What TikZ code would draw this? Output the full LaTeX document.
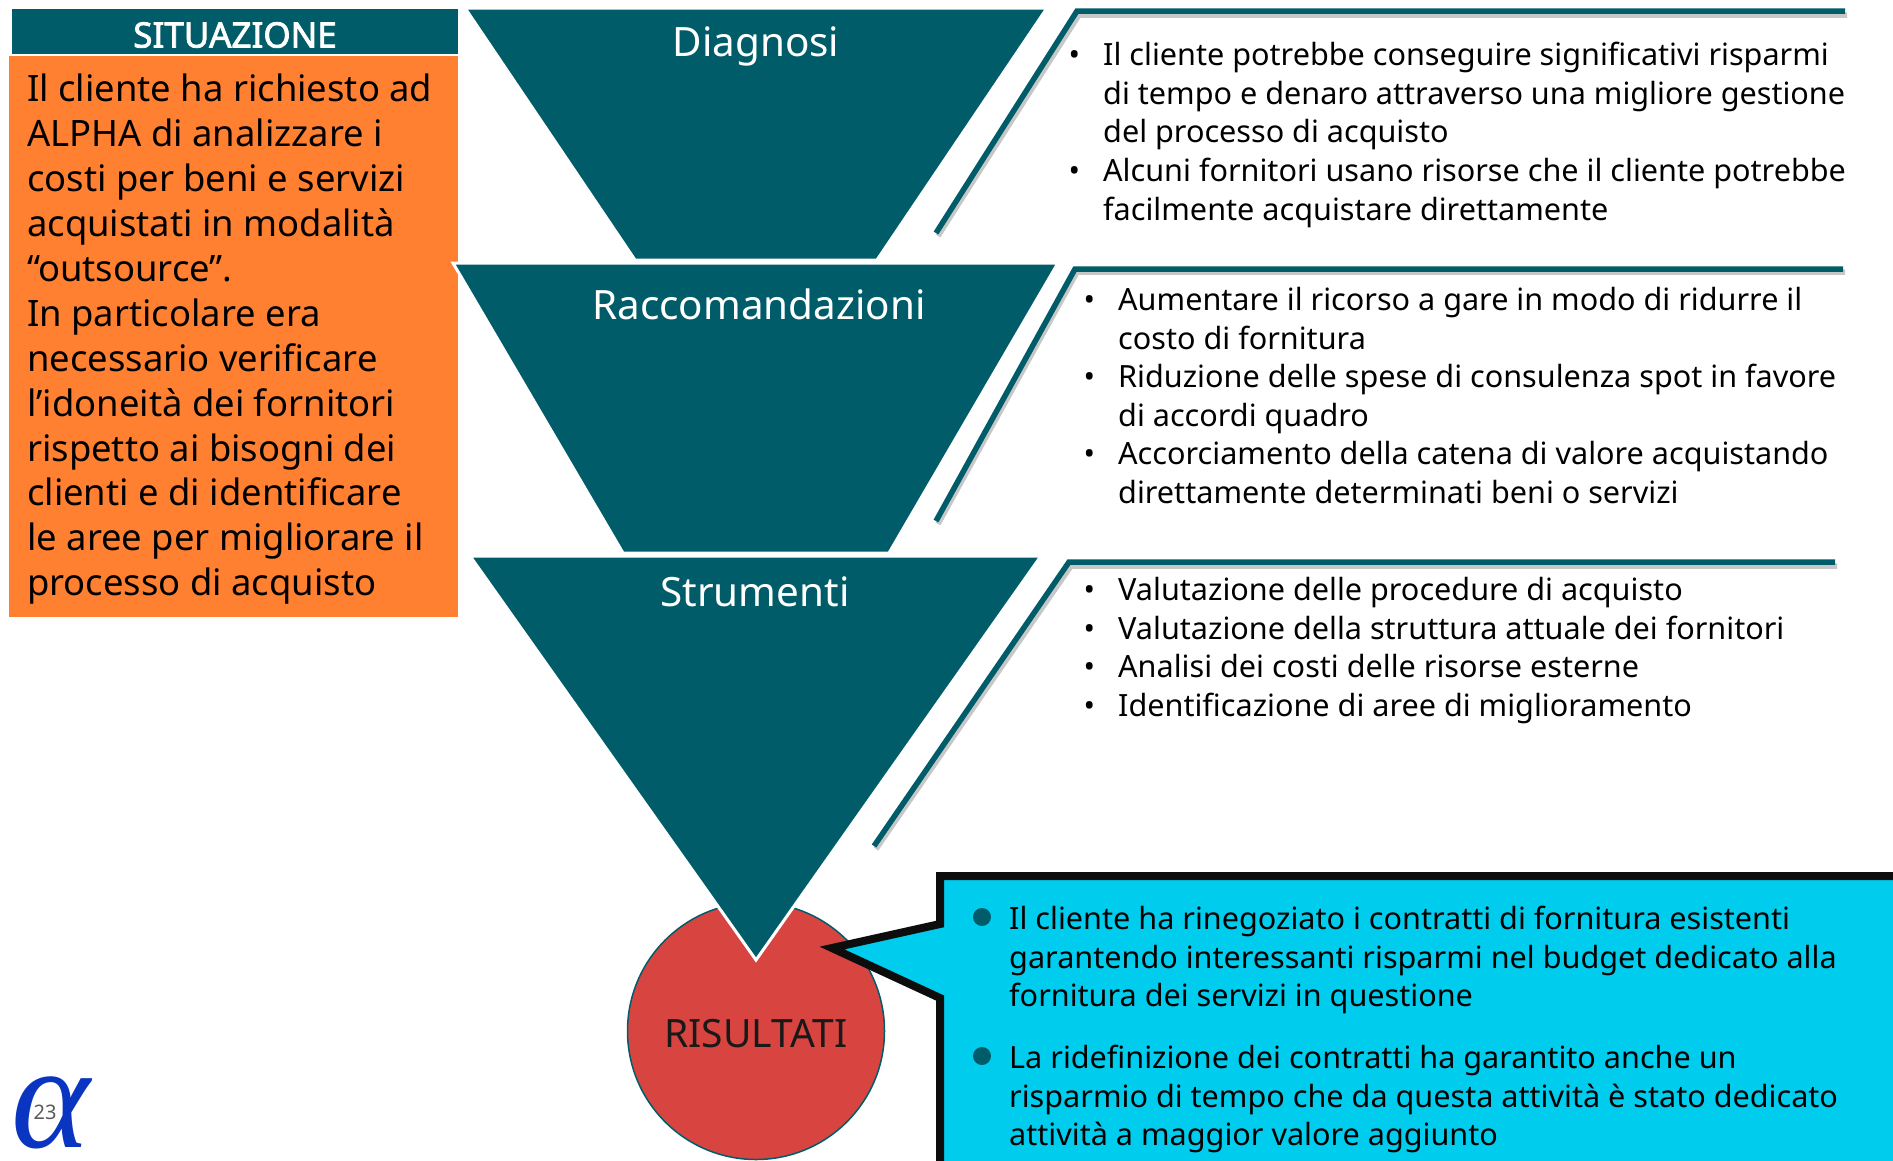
\documentclass[tikz,border=0pt]{standalone}
\usepackage{fontspec}
\setmainfont{Noto Sans}
\newfontfamily\headfont[FakeBold=2.2]{Noto Sans}
\newfontfamily\logofont{Liberation Serif}
\definecolor{tealdark}{HTML}{005C69}
\definecolor{orangebox}{HTML}{FF8030}
\definecolor{cyanbox}{HTML}{00CDEE}
\definecolor{redcircle}{HTML}{D84540}
\definecolor{logoblue}{HTML}{0A35C0}
\newcommand*{\bulletline}{\leavevmode\llap{\textbullet\hspace{23pt}}}
\tikzset{
  funnel/.style={fill=tealdark, draw=white, line width=3pt, line join=miter},
  funneltitle/.style={text=white, font=\fontsize{40.4}{46}\selectfont},
  rule/.style={draw=tealdark, line width=5.5pt, line join=miter},
  ruleshadow/.style={draw=black!22, line width=5.5pt, line join=miter},
  bodytext/.style={anchor=north west, inner sep=0pt, align=left, font=\fontsize{30.6}{38.6}\selectfont},
  sidetext/.style={anchor=north west, inner sep=0pt, align=left, font=\fontsize{36.4}{44.9}\selectfont},
  calldot/.style={circle, fill=tealdark, inner sep=0pt, minimum size=18pt}
}
\begin{document}
\begin{tikzpicture}[x=1pt, y=-1pt]
\clip (0,0) rectangle (1893,1160);
% left column
\node[fill=tealdark, minimum width=446pt, minimum height=45pt, inner sep=0pt, anchor=north west] (sitHead) at (12,9) {};
\node[text=white, font=\headfont\fontsize{35}{38}\selectfont] (sitTitle) at (235,35) {SITUAZIONE};
\node[fill=orangebox, minimum width=449pt, minimum height=561pt, inner sep=0pt, anchor=north west] (sitBox) at (9,56) {};
\node[sidetext] (sitText) at (27,74) {Il cliente ha richiesto ad\\ ALPHA di analizzare i\\ costi per beni e servizi\\ acquistati in modalità\\ “outsource”.\\ In particolare era\\ necessario verificare\\ l’idoneità dei fornitori\\ rispetto ai bisogni dei\\ clienti e di identificare\\ le aree per migliorare il\\ processo di acquisto};
% funnels
\node[circle, fill=redcircle, draw=tealdark, line width=1.5pt, minimum size=257pt, inner sep=0pt] (resCircle) at (756,1031) {};
\node[text=black!90, font=\fontsize{39}{46}\selectfont] (resText) at (756,1034) {RISULTATI};
\draw[funnel] (465,8) -- (1047,8) -- (877,260) -- (635,260) -- cycle;
\draw[funnel] (453,263) -- (1058,263) -- (889,553) -- (623,553) -- cycle;
\draw[funnel] (470,556) -- (1041,556) -- (756,960) -- cycle;
\node[funneltitle] (diagTitle) at (756,46) {Diagnosi};
\node[funneltitle] (raccTitle) at (759,304) {Raccomandazioni};
\node[funneltitle] (strumTitle) at (755,592) {Strumenti};
% rules
\draw[ruleshadow] (938,236) -- (1079,15) -- (1847,15);
\draw[rule] (936,233) -- (1077,11) -- (1845,11);
\draw[ruleshadow] (938,524) -- (1077,272) -- (1845,272);
\draw[rule] (936,521) -- (1075,269) -- (1843,269);
\draw[ruleshadow] (876,849) -- (1071,566) -- (1837,566);
\draw[rule] (874,846) -- (1069,562) -- (1835,562);
% right column
\node[bodytext] (diagText) at (1103,42) {\bulletline Il cliente potrebbe conseguire significativi risparmi\\ di tempo e denaro attraverso una migliore gestione\\ del processo di acquisto\\ \bulletline Alcuni fornitori usano risorse che il cliente potrebbe\\ facilmente acquistare direttamente};
\node[bodytext] (raccText) at (1118,287) {\bulletline Aumentare il ricorso a gare in modo di ridurre il\\ costo di fornitura\\ \bulletline Riduzione delle spese di consulenza spot in favore\\ di accordi quadro\\ \bulletline Accorciamento della catena di valore acquistando\\ direttamente determinati beni o servizi};
\node[bodytext] (strumText) at (1118,577) {\bulletline Valutazione delle procedure di acquisto\\ \bulletline Valutazione della struttura attuale dei fornitori\\ \bulletline Analisi dei costi delle risorse esterne\\ \bulletline Identificazione di aree di miglioramento};
% callout
\draw[fill=cyanbox, draw=black!95, line width=8pt, miter limit=10] (1910,876) -- (940,876) -- (940,924) -- (832,948) -- (940,998) -- (940,1180) -- (1910,1180);
\node[calldot] (dotOne) at (982,917) {};
\node[calldot] (dotTwo) at (982,1056) {};
\node[bodytext] (resOne) at (1009,906) {Il cliente ha rinegoziato i contratti di fornitura esistenti\\ garantendo interessanti risparmi nel budget dedicato alla\\ fornitura dei servizi in questione};
\node[bodytext] (resTwo) at (1009,1045) {La ridefinizione dei contratti ha garantito anche un\\ risparmio di tempo che da questa attività è stato dedicato\\ attività a maggior valore aggiunto};
% logo
\node[text=logoblue, font=\logofont\itshape\fontsize{150}{150}\selectfont, inner sep=0pt] (logoAlpha) at (51,1113) {α};
\node[text=black!65, font=\fontsize{20}{24}\selectfont, inner sep=0pt] (pageNum) at (45,1112) {23};
\end{tikzpicture}
\end{document}
